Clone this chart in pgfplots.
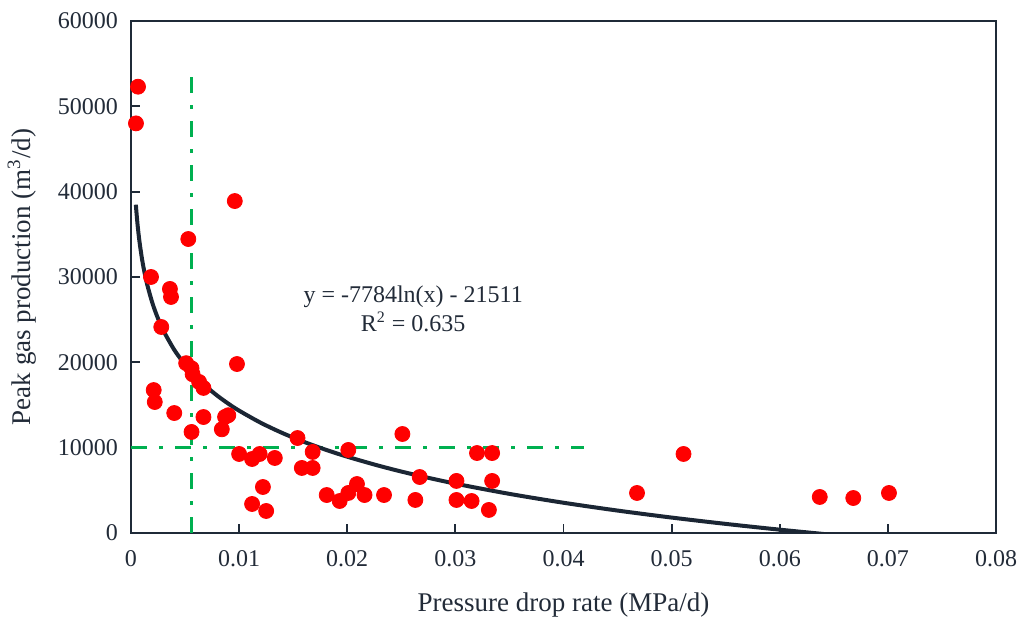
\documentclass[border=0pt]{standalone}
\usepackage{fontspec}
\setmainfont{Liberation Serif}
\usepackage{pgfplots}
\pgfplotsset{compat=1.18}
\definecolor{axc}{HTML}{1F2A38}
\definecolor{txt}{HTML}{222B38}
\definecolor{dotc}{HTML}{FF0000}
\definecolor{fitc}{HTML}{1B2634}
\definecolor{guide}{HTML}{00B050}

\begin{document}
\begin{tikzpicture}
\begin{axis}[
  name=ax, scale only axis, width=432.5pt, height=256pt,
  xmin=0, xmax=0.08, ymin=0, ymax=60000,
  scaled x ticks=false, scaled y ticks=false,
  xtick={0,0.01,0.02,0.03,0.04,0.05,0.06,0.07,0.08},
  xticklabels={0,0.01,0.02,0.03,0.04,0.05,0.06,0.07,0.08},
  ytick={0,10000,20000,30000,40000,50000,60000},
  yticklabels={0,10000,20000,30000,40000,50000,60000},
  tick align=inside, xtick pos=left, ytick pos=left,
  major tick length=4.5pt,
  tick style={axc, line width=0.9pt},
  axis line style={axc, line width=1pt},
  tick label style={font=\fontsize{12}{13}\selectfont, color=txt},
  xticklabel style={yshift=-5pt},
  yticklabel style={xshift=-3pt},
  xlabel={Pressure drop rate (MPa/d)},
  ylabel={Peak gas production (m\textsuperscript{3}/d)},
  label style={font=\fontsize{13.5}{15}\selectfont, color=txt},
  xlabel style={at={(axis description cs:0.5,-0.1406)}, anchor=center},
  ylabel style={at={(axis description cs:-0.126,0.5)}, anchor=center},
]
\addplot[only marks, mark=*, mark size=3.75pt, mark options={fill=dotc, draw=dotc}] coordinates {
(0.00065,52300) (0.00046,48000) (0.0096,38900) (0.0053,34450) (0.00185,30000)
(0.0036,28600) (0.0037,27660) (0.0028,24140) (0.0051,19900) (0.0056,19300)
(0.0057,18600) (0.0063,17700) (0.0067,17000) (0.0098,19800) (0.0021,16750)
(0.0022,15350) (0.0040,14060) (0.0067,13590) (0.0087,13600) (0.0090,13800)
(0.0084,12150) (0.0056,11840) (0.0100,9260) (0.0112,8670) (0.0119,9260)
(0.0133,8790) (0.0154,11130) (0.0168,9500) (0.0158,7620) (0.0168,7620)
(0.0122,5390) (0.0112,3400) (0.0125,2580) (0.0181,4450) (0.0193,3750)
(0.0201,4690) (0.0209,5740) (0.0216,4450) (0.0234,4450) (0.0251,11600)
(0.0201,9730) (0.0263,3870) (0.0267,6560) (0.0301,6100) (0.0301,3870)
(0.0315,3750) (0.0331,2700) (0.0320,9370) (0.0334,9370) (0.0334,6100)
(0.0468,4690) (0.0511,9260) (0.0637,4220) (0.0668,4100) (0.0701,4690)
};
\addplot[guide, line width=1.6pt, dash pattern=on 8pt off 6pt on 2pt off 6pt] coordinates {(0.00556,0) (0.00556,53700)};
\addplot[guide, line width=1.6pt, dash pattern=on 8pt off 6pt on 2pt off 6pt] coordinates {(0,10000) (0.0419,10000)};
\addplot[fitc, line width=2pt, smooth] coordinates {
(0.00045,38475) (0.0005,37655) (0.0006,36235) (0.0007,35035) (0.0008,33996)
(0.001,32259) (0.0012,30840) (0.0015,29103) (0.002,26863) (0.0025,25127)
(0.003,23707) (0.004,21468) (0.005,19731) (0.006,18312) (0.007,17112)
(0.008,16073) (0.009,15156) (0.010,14336) (0.012,12916) (0.014,11716)
(0.016,10677) (0.018,9761) (0.020,8940) (0.023,7853) (0.026,6898)
(0.030,5784) (0.035,4584) (0.040,3545) (0.045,2628) (0.050,1808)
(0.055,1066) (0.060,389) (0.065,-234)
};
\node[align=center, font=\fontsize{12}{14.5}\selectfont, color=txt] at (axis cs:0.0261,26300) {y = -7784ln(x) - 21511\\R\textsuperscript{2} = 0.635};
\end{axis}
\pgfresetboundingbox
\path[use as bounding box] ([xshift=-65.5pt,yshift=-45.5pt]ax.south west) rectangle ([xshift=13pt,yshift=10.5pt]ax.north east);
\end{tikzpicture}
\end{document}
